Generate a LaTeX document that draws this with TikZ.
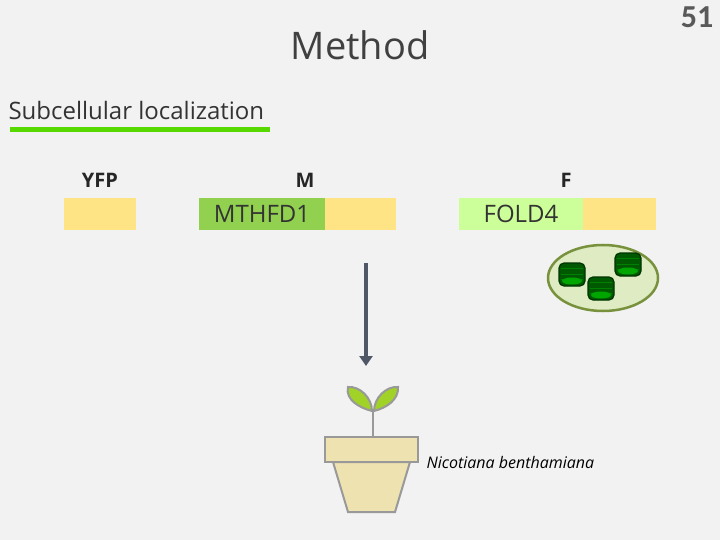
\documentclass[tikz,border=0pt]{standalone}
\usepackage{fontspec}
\setmainfont{Open Sans}
\newfontfamily\numfont{Carlito}
\usetikzlibrary{arrows.meta}
\begin{document}
\begin{tikzpicture}[x=1pt,y=-1pt,
  lbl/.style={font=\fontsize{20}{24}\selectfont\bfseries,text=black!85},
  granum/.style={fill=green!35!black,draw=green!20!black,line width=1.2pt,rounded corners=5pt}]
\fill[black!5] (0,0) rectangle (720,540);
\useasboundingbox (0,0) rectangle (720,540);
\node[text=black!65,font=\numfont\fontsize{32}{36}\selectfont\bfseries] (num) at (697,17) {51};
\node[text=black!75,font=\fontsize{38}{44}\selectfont] (title) at (360,45) {Method};
\node[text=black!80,font=\fontsize{24}{28}\selectfont,anchor=west] (sub) at (5,111) {Subcellular localization};
\fill[green!60!yellow!85!black] (10,127.5) rectangle (270,132.5);
\node[lbl] (yfp) at (100,180) {YFP};
\node[lbl] (m) at (305,180) {M};
\node[lbl] (f) at (566,180) {F};
\fill[fill={rgb,255:red,255;green,228;blue,133}] (64,198) rectangle (136,230);
\fill[fill={rgb,255:red,255;green,228;blue,133}] (199,198) rectangle (396,230);
\fill[fill={rgb,255:red,146;green,208;blue,80}] (199,198) rectangle (325,230);
\node[font=\fontsize{24}{28}\selectfont,text=black!80] (mth) at (262,214) {MTHFD1};
\fill[fill={rgb,255:red,255;green,228;blue,133}] (459,198) rectangle (656,230);
\fill[fill={rgb,255:red,204;green,255;blue,153}] (459,198) rectangle (583,230);
\node[font=\fontsize{24}{28}\selectfont,text=black!80] (fold) at (521,214) {FOLD4};
% chloroplast
\draw[fill={rgb,255:red,222;green,235;blue,195},draw={rgb,255:red,120;green,145;blue,60},line width=2.5pt] (603,278) ellipse (55 and 33);
\foreach \cx/\cy in {572/275,601/289,628/265}{
  \draw[granum] (\cx-13,\cy-12) rectangle (\cx+13,\cy+11);
  \foreach \k in {1,2,3} \draw[green!50!black,line width=1pt] (\cx-11,\cy-12+\k*5.5) -- (\cx+11,\cy-12+\k*5.5);
  \fill[green!65!black] (\cx,\cy+6) ellipse (10 and 3.5);
}
% arrow
\coordinate (a1) at (366,263);
\coordinate (a2) at (366,366);
\draw[line width=3.5pt,draw={rgb,255:red,80;green,88;blue,104},-{Triangle[length=10pt,width=13pt]}] (a1) -- (a2);
% plant
\draw[line width=2pt,draw=black!40] (373,437) -- (373,410);
\draw[line width=2pt,draw=black!40,fill={rgb,255:red,160;green,210;blue,40}] (372,411) .. controls (360,408) and (345,400) .. (348,387) .. controls (360,386) and (372,398) .. (372,411);
\draw[line width=2pt,draw=black!40,fill={rgb,255:red,160;green,210;blue,40}] (374,411) .. controls (386,408) and (399,400) .. (398,387) .. controls (386,386) and (374,398) .. (374,411);
\draw[line width=2pt,draw=black!40,fill={rgb,255:red,238;green,227;blue,176}] (333,462) -- (410,462) -- (395,512) -- (348,512) -- cycle;
\draw[line width=2pt,draw=black!40,fill={rgb,255:red,238;green,227;blue,176}] (325,437) rectangle (418,462);
\node[font=\fontsize{16}{19}\selectfont\itshape,anchor=west] (nb) at (423,462) {Nicotiana benthamiana};
\end{tikzpicture}
\end{document}
